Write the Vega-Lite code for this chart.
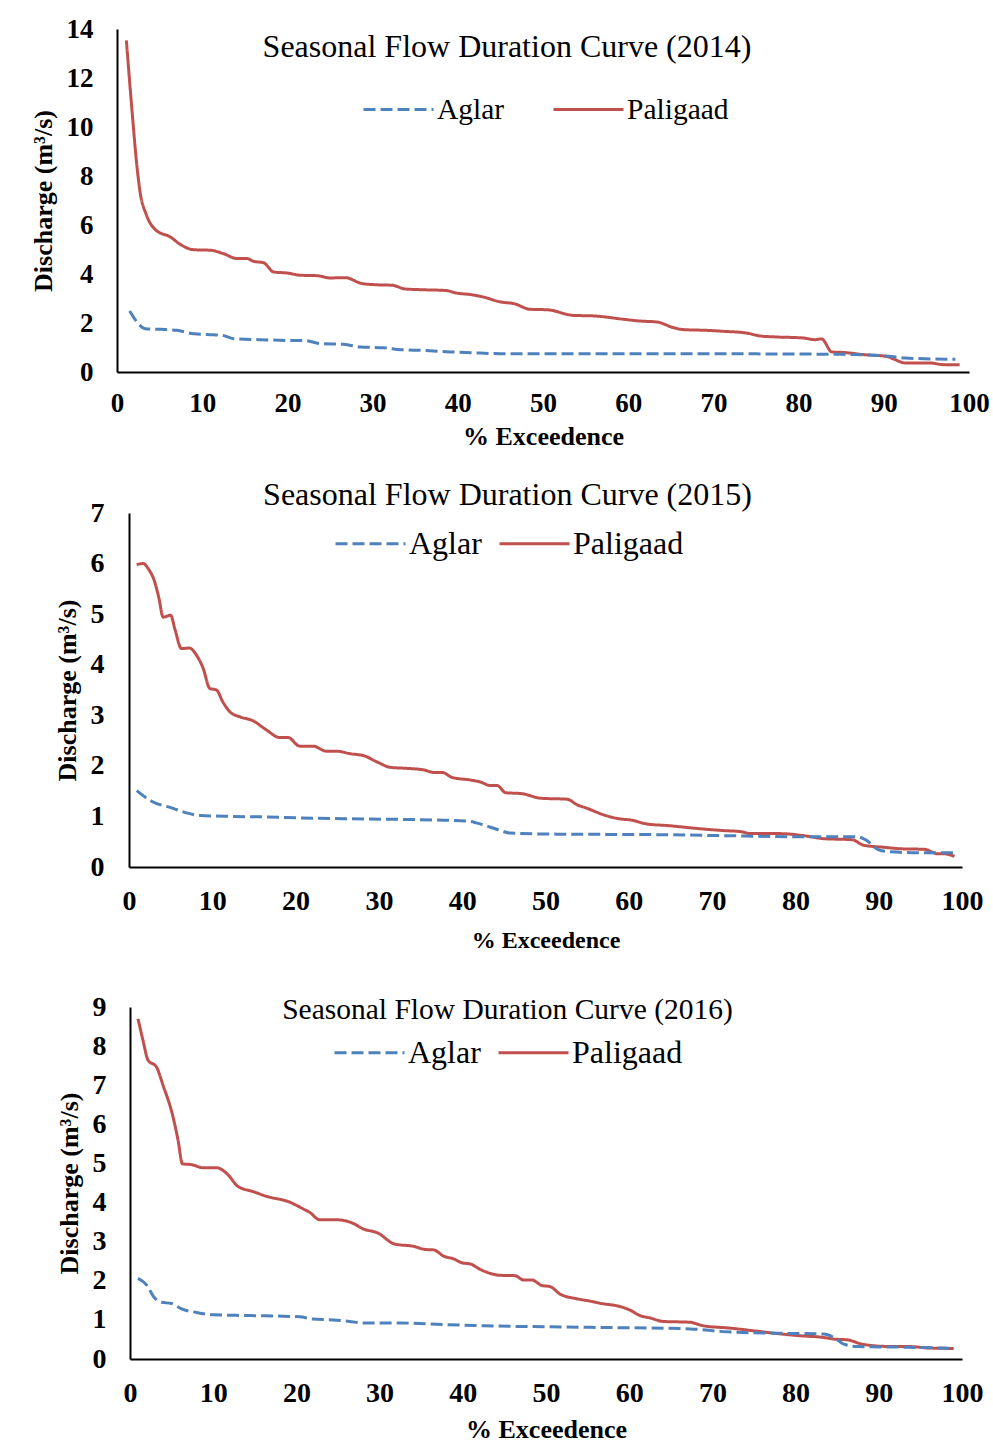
{
  "$schema": "https://vega.github.io/schema/vega-lite/v6.json",
  "padding": {"left": 30, "top": 15, "right": 0, "bottom": 0},
  "background": "white",
  "datasets": {
    "flow": [
      {"year":2014,"station":"Paligaad","exceedence":1.1,"discharge":13.54},
      {"year":2014,"station":"Paligaad","exceedence":1.76,"discharge":10.68},
      {"year":2014,"station":"Paligaad","exceedence":2.35,"discharge":8.37},
      {"year":2014,"station":"Paligaad","exceedence":2.74,"discharge":7.28},
      {"year":2014,"station":"Paligaad","exceedence":3.4,"discharge":6.46},
      {"year":2014,"station":"Paligaad","exceedence":4.5,"discharge":5.81},
      {"year":2014,"station":"Paligaad","exceedence":6.26,"discharge":5.51},
      {"year":2014,"station":"Paligaad","exceedence":7.6,"discharge":5.17},
      {"year":2014,"station":"Paligaad","exceedence":9.0,"discharge":4.99},
      {"year":2014,"station":"Paligaad","exceedence":10.95,"discharge":4.97},
      {"year":2014,"station":"Paligaad","exceedence":12.5,"discharge":4.83},
      {"year":2014,"station":"Paligaad","exceedence":14.1,"discharge":4.63},
      {"year":2014,"station":"Paligaad","exceedence":15.3,"discharge":4.63},
      {"year":2014,"station":"Paligaad","exceedence":16.0,"discharge":4.52},
      {"year":2014,"station":"Paligaad","exceedence":17.2,"discharge":4.46},
      {"year":2014,"station":"Paligaad","exceedence":18.4,"discharge":4.08},
      {"year":2014,"station":"Paligaad","exceedence":20.0,"discharge":4.04},
      {"year":2014,"station":"Paligaad","exceedence":21.5,"discharge":3.95},
      {"year":2014,"station":"Paligaad","exceedence":23.5,"discharge":3.93},
      {"year":2014,"station":"Paligaad","exceedence":25.0,"discharge":3.84},
      {"year":2014,"station":"Paligaad","exceedence":26.8,"discharge":3.85},
      {"year":2014,"station":"Paligaad","exceedence":28.75,"discharge":3.61},
      {"year":2014,"station":"Paligaad","exceedence":30.5,"discharge":3.56},
      {"year":2014,"station":"Paligaad","exceedence":32.3,"discharge":3.54},
      {"year":2014,"station":"Paligaad","exceedence":33.8,"discharge":3.39},
      {"year":2014,"station":"Paligaad","exceedence":35.6,"discharge":3.36},
      {"year":2014,"station":"Paligaad","exceedence":38.5,"discharge":3.33},
      {"year":2014,"station":"Paligaad","exceedence":39.9,"discharge":3.22},
      {"year":2014,"station":"Paligaad","exceedence":41.5,"discharge":3.16},
      {"year":2014,"station":"Paligaad","exceedence":43.0,"discharge":3.06},
      {"year":2014,"station":"Paligaad","exceedence":45.0,"discharge":2.86},
      {"year":2014,"station":"Paligaad","exceedence":46.6,"discharge":2.79},
      {"year":2014,"station":"Paligaad","exceedence":48.5,"discharge":2.56},
      {"year":2014,"station":"Paligaad","exceedence":50.5,"discharge":2.54},
      {"year":2014,"station":"Paligaad","exceedence":53.6,"discharge":2.31},
      {"year":2014,"station":"Paligaad","exceedence":55.9,"discharge":2.29},
      {"year":2014,"station":"Paligaad","exceedence":59.5,"discharge":2.15},
      {"year":2014,"station":"Paligaad","exceedence":61.4,"discharge":2.08},
      {"year":2014,"station":"Paligaad","exceedence":63.4,"discharge":2.04},
      {"year":2014,"station":"Paligaad","exceedence":65.3,"discharge":1.81},
      {"year":2014,"station":"Paligaad","exceedence":66.5,"discharge":1.73},
      {"year":2014,"station":"Paligaad","exceedence":69.2,"discharge":1.70},
      {"year":2014,"station":"Paligaad","exceedence":71.2,"discharge":1.66},
      {"year":2014,"station":"Paligaad","exceedence":73.9,"discharge":1.59},
      {"year":2014,"station":"Paligaad","exceedence":75.5,"discharge":1.47},
      {"year":2014,"station":"Paligaad","exceedence":77.4,"discharge":1.43},
      {"year":2014,"station":"Paligaad","exceedence":80.5,"discharge":1.39},
      {"year":2014,"station":"Paligaad","exceedence":81.9,"discharge":1.32},
      {"year":2014,"station":"Paligaad","exceedence":82.7,"discharge":1.35},
      {"year":2014,"station":"Paligaad","exceedence":83.9,"discharge":0.82},
      {"year":2014,"station":"Paligaad","exceedence":85.2,"discharge":0.80},
      {"year":2014,"station":"Paligaad","exceedence":87.6,"discharge":0.71},
      {"year":2014,"station":"Paligaad","exceedence":90.3,"discharge":0.64},
      {"year":2014,"station":"Paligaad","exceedence":91.1,"discharge":0.54},
      {"year":2014,"station":"Paligaad","exceedence":92.5,"discharge":0.37},
      {"year":2014,"station":"Paligaad","exceedence":95.4,"discharge":0.37},
      {"year":2014,"station":"Paligaad","exceedence":97.0,"discharge":0.30},
      {"year":2014,"station":"Paligaad","exceedence":98.9,"discharge":0.30},
      {"year":2014,"station":"Aglar","exceedence":1.49,"discharge":2.49},
      {"year":2014,"station":"Aglar","exceedence":2.35,"discharge":2.04},
      {"year":2014,"station":"Aglar","exceedence":3.3,"discharge":1.77},
      {"year":2014,"station":"Aglar","exceedence":5.1,"discharge":1.74},
      {"year":2014,"station":"Aglar","exceedence":7.0,"discharge":1.70},
      {"year":2014,"station":"Aglar","exceedence":9.0,"discharge":1.56},
      {"year":2014,"station":"Aglar","exceedence":11.3,"discharge":1.52},
      {"year":2014,"station":"Aglar","exceedence":12.3,"discharge":1.50},
      {"year":2014,"station":"Aglar","exceedence":13.7,"discharge":1.36},
      {"year":2014,"station":"Aglar","exceedence":16.8,"discharge":1.32},
      {"year":2014,"station":"Aglar","exceedence":20.0,"discharge":1.29},
      {"year":2014,"station":"Aglar","exceedence":21.9,"discharge":1.29},
      {"year":2014,"station":"Aglar","exceedence":23.9,"discharge":1.16},
      {"year":2014,"station":"Aglar","exceedence":26.6,"discharge":1.13},
      {"year":2014,"station":"Aglar","exceedence":28.6,"discharge":1.02},
      {"year":2014,"station":"Aglar","exceedence":31.3,"discharge":0.99},
      {"year":2014,"station":"Aglar","exceedence":33.3,"discharge":0.91},
      {"year":2014,"station":"Aglar","exceedence":36.0,"discharge":0.88},
      {"year":2014,"station":"Aglar","exceedence":39.1,"discharge":0.82},
      {"year":2014,"station":"Aglar","exceedence":41.9,"discharge":0.78},
      {"year":2014,"station":"Aglar","exceedence":45.0,"discharge":0.75},
      {"year":2014,"station":"Aglar","exceedence":60.0,"discharge":0.75},
      {"year":2014,"station":"Aglar","exceedence":75.0,"discharge":0.74},
      {"year":2014,"station":"Aglar","exceedence":85.2,"discharge":0.72},
      {"year":2014,"station":"Aglar","exceedence":90.6,"discharge":0.64},
      {"year":2014,"station":"Aglar","exceedence":92.5,"discharge":0.57},
      {"year":2014,"station":"Aglar","exceedence":98.4,"discharge":0.52},

      {"year":2015,"station":"Paligaad","exceedence":0.92,"discharge":5.98},
      {"year":2015,"station":"Paligaad","exceedence":1.72,"discharge":6.0},
      {"year":2015,"station":"Paligaad","exceedence":2.3,"discharge":5.9},
      {"year":2015,"station":"Paligaad","exceedence":3.1,"discharge":5.63},
      {"year":2015,"station":"Paligaad","exceedence":3.6,"discharge":5.31},
      {"year":2015,"station":"Paligaad","exceedence":4.1,"discharge":4.94},
      {"year":2015,"station":"Paligaad","exceedence":5.0,"discharge":4.98},
      {"year":2015,"station":"Paligaad","exceedence":5.5,"discharge":4.71},
      {"year":2015,"station":"Paligaad","exceedence":6.3,"discharge":4.32},
      {"year":2015,"station":"Paligaad","exceedence":7.25,"discharge":4.33},
      {"year":2015,"station":"Paligaad","exceedence":8.1,"discharge":4.19},
      {"year":2015,"station":"Paligaad","exceedence":8.9,"discharge":3.93},
      {"year":2015,"station":"Paligaad","exceedence":9.7,"discharge":3.53},
      {"year":2015,"station":"Paligaad","exceedence":10.5,"discharge":3.50},
      {"year":2015,"station":"Paligaad","exceedence":11.25,"discharge":3.27},
      {"year":2015,"station":"Paligaad","exceedence":12.1,"discharge":3.07},
      {"year":2015,"station":"Paligaad","exceedence":13.3,"discharge":2.97},
      {"year":2015,"station":"Paligaad","exceedence":14.9,"discharge":2.89},
      {"year":2015,"station":"Paligaad","exceedence":16.5,"discharge":2.71},
      {"year":2015,"station":"Paligaad","exceedence":18.1,"discharge":2.56},
      {"year":2015,"station":"Paligaad","exceedence":19.1,"discharge":2.56},
      {"year":2015,"station":"Paligaad","exceedence":20.5,"discharge":2.39},
      {"year":2015,"station":"Paligaad","exceedence":22.1,"discharge":2.39},
      {"year":2015,"station":"Paligaad","exceedence":23.7,"discharge":2.29},
      {"year":2015,"station":"Paligaad","exceedence":24.95,"discharge":2.29},
      {"year":2015,"station":"Paligaad","exceedence":26.55,"discharge":2.24},
      {"year":2015,"station":"Paligaad","exceedence":28.2,"discharge":2.20},
      {"year":2015,"station":"Paligaad","exceedence":29.75,"discharge":2.08},
      {"year":2015,"station":"Paligaad","exceedence":31.4,"discharge":1.97},
      {"year":2015,"station":"Paligaad","exceedence":33.4,"discharge":1.95},
      {"year":2015,"station":"Paligaad","exceedence":35.4,"discharge":1.92},
      {"year":2015,"station":"Paligaad","exceedence":36.6,"discharge":1.87},
      {"year":2015,"station":"Paligaad","exceedence":37.6,"discharge":1.87},
      {"year":2015,"station":"Paligaad","exceedence":38.8,"discharge":1.77},
      {"year":2015,"station":"Paligaad","exceedence":41.0,"discharge":1.72},
      {"year":2015,"station":"Paligaad","exceedence":42.2,"discharge":1.68},
      {"year":2015,"station":"Paligaad","exceedence":43.4,"discharge":1.61},
      {"year":2015,"station":"Paligaad","exceedence":44.2,"discharge":1.61},
      {"year":2015,"station":"Paligaad","exceedence":45.2,"discharge":1.47},
      {"year":2015,"station":"Paligaad","exceedence":47.2,"discharge":1.45},
      {"year":2015,"station":"Paligaad","exceedence":49.4,"discharge":1.36},
      {"year":2015,"station":"Paligaad","exceedence":52.6,"discharge":1.34},
      {"year":2015,"station":"Paligaad","exceedence":53.8,"discharge":1.23},
      {"year":2015,"station":"Paligaad","exceedence":55.0,"discharge":1.16},
      {"year":2015,"station":"Paligaad","exceedence":57.0,"discharge":1.03},
      {"year":2015,"station":"Paligaad","exceedence":59.0,"discharge":0.95},
      {"year":2015,"station":"Paligaad","exceedence":60.2,"discharge":0.93},
      {"year":2015,"station":"Paligaad","exceedence":62.2,"discharge":0.85},
      {"year":2015,"station":"Paligaad","exceedence":64.6,"discharge":0.82},
      {"year":2015,"station":"Paligaad","exceedence":69.0,"discharge":0.75},
      {"year":2015,"station":"Paligaad","exceedence":71.4,"discharge":0.72},
      {"year":2015,"station":"Paligaad","exceedence":73.4,"discharge":0.70},
      {"year":2015,"station":"Paligaad","exceedence":74.6,"discharge":0.66},
      {"year":2015,"station":"Paligaad","exceedence":78.2,"discharge":0.66},
      {"year":2015,"station":"Paligaad","exceedence":81.0,"discharge":0.62},
      {"year":2015,"station":"Paligaad","exceedence":83.4,"discharge":0.56},
      {"year":2015,"station":"Paligaad","exceedence":86.8,"discharge":0.54},
      {"year":2015,"station":"Paligaad","exceedence":88.2,"discharge":0.43},
      {"year":2015,"station":"Paligaad","exceedence":90.6,"discharge":0.39},
      {"year":2015,"station":"Paligaad","exceedence":92.7,"discharge":0.36},
      {"year":2015,"station":"Paligaad","exceedence":95.5,"discharge":0.35},
      {"year":2015,"station":"Paligaad","exceedence":97.1,"discharge":0.26},
      {"year":2015,"station":"Paligaad","exceedence":97.9,"discharge":0.26},
      {"year":2015,"station":"Paligaad","exceedence":99.1,"discharge":0.21},
      {"year":2015,"station":"Aglar","exceedence":0.92,"discharge":1.51},
      {"year":2015,"station":"Aglar","exceedence":2.7,"discharge":1.30},
      {"year":2015,"station":"Aglar","exceedence":5.3,"discharge":1.16},
      {"year":2015,"station":"Aglar","exceedence":6.9,"discharge":1.07},
      {"year":2015,"station":"Aglar","exceedence":8.5,"discharge":1.02},
      {"year":2015,"station":"Aglar","exceedence":12.5,"discharge":1.00},
      {"year":2015,"station":"Aglar","exceedence":16.5,"discharge":0.99},
      {"year":2015,"station":"Aglar","exceedence":20.5,"discharge":0.97},
      {"year":2015,"station":"Aglar","exceedence":28.6,"discharge":0.95},
      {"year":2015,"station":"Aglar","exceedence":36.6,"discharge":0.93},
      {"year":2015,"station":"Aglar","exceedence":40.6,"discharge":0.91},
      {"year":2015,"station":"Aglar","exceedence":42.6,"discharge":0.83},
      {"year":2015,"station":"Aglar","exceedence":44.6,"discharge":0.72},
      {"year":2015,"station":"Aglar","exceedence":45.8,"discharge":0.67},
      {"year":2015,"station":"Aglar","exceedence":51.4,"discharge":0.65},
      {"year":2015,"station":"Aglar","exceedence":63.4,"discharge":0.64},
      {"year":2015,"station":"Aglar","exceedence":71.4,"discharge":0.62},
      {"year":2015,"station":"Aglar","exceedence":79.4,"discharge":0.60},
      {"year":2015,"station":"Aglar","exceedence":87.4,"discharge":0.60},
      {"year":2015,"station":"Aglar","exceedence":88.4,"discharge":0.54},
      {"year":2015,"station":"Aglar","exceedence":90.0,"discharge":0.34},
      {"year":2015,"station":"Aglar","exceedence":91.4,"discharge":0.30},
      {"year":2015,"station":"Aglar","exceedence":95.5,"discharge":0.28},
      {"year":2015,"station":"Aglar","exceedence":99.1,"discharge":0.28},

      {"year":2016,"station":"Paligaad","exceedence":0.96,"discharge":8.70},
      {"year":2016,"station":"Paligaad","exceedence":1.56,"discharge":8.15},
      {"year":2016,"station":"Paligaad","exceedence":2.17,"discharge":7.64},
      {"year":2016,"station":"Paligaad","exceedence":3.17,"discharge":7.47},
      {"year":2016,"station":"Paligaad","exceedence":3.97,"discharge":7.00},
      {"year":2016,"station":"Paligaad","exceedence":5.17,"discharge":6.19},
      {"year":2016,"station":"Paligaad","exceedence":5.78,"discharge":5.59},
      {"year":2016,"station":"Paligaad","exceedence":6.3,"discharge":4.99},
      {"year":2016,"station":"Paligaad","exceedence":7.4,"discharge":4.97},
      {"year":2016,"station":"Paligaad","exceedence":8.8,"discharge":4.89},
      {"year":2016,"station":"Paligaad","exceedence":10.4,"discharge":4.89},
      {"year":2016,"station":"Paligaad","exceedence":11.6,"discharge":4.75},
      {"year":2016,"station":"Paligaad","exceedence":13.0,"discharge":4.41},
      {"year":2016,"station":"Paligaad","exceedence":14.8,"discharge":4.28},
      {"year":2016,"station":"Paligaad","exceedence":16.4,"discharge":4.16},
      {"year":2016,"station":"Paligaad","exceedence":19.2,"discharge":4.01},
      {"year":2016,"station":"Paligaad","exceedence":20.8,"discharge":3.84},
      {"year":2016,"station":"Paligaad","exceedence":21.6,"discharge":3.75},
      {"year":2016,"station":"Paligaad","exceedence":22.8,"discharge":3.56},
      {"year":2016,"station":"Paligaad","exceedence":24.8,"discharge":3.56},
      {"year":2016,"station":"Paligaad","exceedence":26.8,"discharge":3.47},
      {"year":2016,"station":"Paligaad","exceedence":28.0,"discharge":3.33},
      {"year":2016,"station":"Paligaad","exceedence":29.8,"discharge":3.22},
      {"year":2016,"station":"Paligaad","exceedence":31.8,"discharge":2.94},
      {"year":2016,"station":"Paligaad","exceedence":34.1,"discharge":2.88},
      {"year":2016,"station":"Paligaad","exceedence":35.5,"discharge":2.80},
      {"year":2016,"station":"Paligaad","exceedence":36.5,"discharge":2.79},
      {"year":2016,"station":"Paligaad","exceedence":37.7,"discharge":2.63},
      {"year":2016,"station":"Paligaad","exceedence":38.9,"discharge":2.56},
      {"year":2016,"station":"Paligaad","exceedence":39.9,"discharge":2.46},
      {"year":2016,"station":"Paligaad","exceedence":40.9,"discharge":2.43},
      {"year":2016,"station":"Paligaad","exceedence":42.1,"discharge":2.29},
      {"year":2016,"station":"Paligaad","exceedence":44.5,"discharge":2.14},
      {"year":2016,"station":"Paligaad","exceedence":46.3,"discharge":2.13},
      {"year":2016,"station":"Paligaad","exceedence":47.3,"discharge":2.02},
      {"year":2016,"station":"Paligaad","exceedence":48.3,"discharge":2.02},
      {"year":2016,"station":"Paligaad","exceedence":49.5,"discharge":1.88},
      {"year":2016,"station":"Paligaad","exceedence":50.5,"discharge":1.85},
      {"year":2016,"station":"Paligaad","exceedence":51.7,"discharge":1.66},
      {"year":2016,"station":"Paligaad","exceedence":53.7,"discharge":1.54},
      {"year":2016,"station":"Paligaad","exceedence":55.3,"discharge":1.48},
      {"year":2016,"station":"Paligaad","exceedence":56.9,"discharge":1.41},
      {"year":2016,"station":"Paligaad","exceedence":58.3,"discharge":1.37},
      {"year":2016,"station":"Paligaad","exceedence":60.1,"discharge":1.25},
      {"year":2016,"station":"Paligaad","exceedence":61.3,"discharge":1.11},
      {"year":2016,"station":"Paligaad","exceedence":62.5,"discharge":1.05},
      {"year":2016,"station":"Paligaad","exceedence":64.1,"discharge":0.96},
      {"year":2016,"station":"Paligaad","exceedence":67.3,"discharge":0.94},
      {"year":2016,"station":"Paligaad","exceedence":68.9,"discharge":0.85},
      {"year":2016,"station":"Paligaad","exceedence":72.1,"discharge":0.79},
      {"year":2016,"station":"Paligaad","exceedence":75.4,"discharge":0.71},
      {"year":2016,"station":"Paligaad","exceedence":77.4,"discharge":0.66},
      {"year":2016,"station":"Paligaad","exceedence":80.2,"discharge":0.60},
      {"year":2016,"station":"Paligaad","exceedence":83.4,"discharge":0.55},
      {"year":2016,"station":"Paligaad","exceedence":84.6,"discharge":0.51},
      {"year":2016,"station":"Paligaad","exceedence":86.2,"discharge":0.49},
      {"year":2016,"station":"Paligaad","exceedence":88.2,"discharge":0.37},
      {"year":2016,"station":"Paligaad","exceedence":91.4,"discharge":0.32},
      {"year":2016,"station":"Paligaad","exceedence":93.4,"discharge":0.32},
      {"year":2016,"station":"Paligaad","exceedence":96.2,"discharge":0.28},
      {"year":2016,"station":"Paligaad","exceedence":99.0,"discharge":0.27},
      {"year":2016,"station":"Aglar","exceedence":0.96,"discharge":2.06},
      {"year":2016,"station":"Aglar","exceedence":1.97,"discharge":1.90},
      {"year":2016,"station":"Aglar","exceedence":2.97,"discharge":1.56},
      {"year":2016,"station":"Aglar","exceedence":3.77,"discharge":1.45},
      {"year":2016,"station":"Aglar","exceedence":4.97,"discharge":1.42},
      {"year":2016,"station":"Aglar","exceedence":6.2,"discharge":1.28},
      {"year":2016,"station":"Aglar","exceedence":8.0,"discharge":1.19},
      {"year":2016,"station":"Aglar","exceedence":10.0,"discharge":1.13},
      {"year":2016,"station":"Aglar","exceedence":14.4,"discharge":1.11},
      {"year":2016,"station":"Aglar","exceedence":20.4,"discharge":1.08},
      {"year":2016,"station":"Aglar","exceedence":22.0,"discharge":1.02},
      {"year":2016,"station":"Aglar","exceedence":24.4,"discharge":1.00},
      {"year":2016,"station":"Aglar","exceedence":26.4,"discharge":0.96},
      {"year":2016,"station":"Aglar","exceedence":28.0,"discharge":0.92},
      {"year":2016,"station":"Aglar","exceedence":32.5,"discharge":0.92},
      {"year":2016,"station":"Aglar","exceedence":37.7,"discharge":0.88},
      {"year":2016,"station":"Aglar","exceedence":42.5,"discharge":0.85},
      {"year":2016,"station":"Aglar","exceedence":55.3,"discharge":0.81},
      {"year":2016,"station":"Aglar","exceedence":67.3,"discharge":0.77},
      {"year":2016,"station":"Aglar","exceedence":71.3,"discharge":0.70},
      {"year":2016,"station":"Aglar","exceedence":77.4,"discharge":0.66},
      {"year":2016,"station":"Aglar","exceedence":83.4,"discharge":0.64},
      {"year":2016,"station":"Aglar","exceedence":84.6,"discharge":0.55},
      {"year":2016,"station":"Aglar","exceedence":85.8,"discharge":0.38},
      {"year":2016,"station":"Aglar","exceedence":87.4,"discharge":0.32},
      {"year":2016,"station":"Aglar","exceedence":93.4,"discharge":0.30},
      {"year":2016,"station":"Aglar","exceedence":99.0,"discharge":0.27}
    ]
  },
  "columns": 1,
  "spacing": 30,
  "resolve": {
    "scale": {"x": "independent", "y": "independent", "color": "independent", "strokeDash": "independent"},
    "legend": {"color": "independent", "strokeDash": "independent"}
  },
  "concat": [
    {
      "width": 852,
      "height": 343,
      "title": {"text": "Seasonal Flow Duration Curve (2014)", "fontSize": 32, "offset": -49, "dx": -36},
      "data": {"name": "flow"},
      "transform": [{"filter": "datum.year == 2014"}],
      "mark": {"type": "line", "interpolate": "monotone", "strokeWidth": 3},
      "encoding": {
        "x": {"field": "exceedence", "type": "quantitative", "scale": {"domain": [0, 100], "nice": false},
              "axis": {"values": [0,10,20,30,40,50,60,70,80,90,100], "labelOverlap": false, "title": "% Exceedence", "labelFontSize": 27, "labelPadding": 18, "titleFontSize": 26, "titlePadding": 7}},
        "y": {"field": "discharge", "type": "quantitative", "scale": {"domain": [0, 14], "nice": false},
              "axis": {"values": [0,2,4,6,8,10,12,14], "labelOverlap": false, "title": "Discharge (m³/s)", "labelFontSize": 27, "labelPadding": 24, "titleFontSize": 26, "titlePadding": 10}},
        "color": {"field": "station", "type": "nominal", "scale": {"domain": ["Aglar", "Paligaad"], "range": ["#4F81BD", "#C0504D"]},
                  "legend": {"title": null, "orient": "none", "direction": "horizontal", "legendX": 245, "legendY": 44, "labelFontSize": 29.5, "labelOffset": 2, "columnPadding": 42}},
        "strokeDash": {"field": "station", "type": "nominal", "scale": {"domain": ["Aglar", "Paligaad"], "range": [[12, 5], [1, 0]]},
                  "legend": {"title": null, "orient": "none", "direction": "horizontal", "legendX": 245, "legendY": 44, "labelFontSize": 29.5, "labelOffset": 2, "columnPadding": 42}}
      }
    },
    {
      "width": 845,
      "height": 354,
      "title": {"text": "Seasonal Flow Duration Curve (2015)", "fontSize": 32, "offset": -13, "dx": -32},
      "data": {"name": "flow"},
      "transform": [{"filter": "datum.year == 2015"}],
      "mark": {"type": "line", "interpolate": "monotone", "strokeWidth": 3},
      "encoding": {
        "x": {"field": "exceedence", "type": "quantitative", "scale": {"domain": [0, 100], "range": [12, 845], "nice": false},
              "axis": {"values": [0,10,20,30,40,50,60,70,80,90,100], "labelOverlap": false, "title": ["% Exceedence", ""], "titleLineHeight": 11, "labelFontSize": 28, "labelPadding": 20, "titleFontSize": 24, "titlePadding": 13}},
        "y": {"field": "discharge", "type": "quantitative", "scale": {"domain": [0, 7], "nice": false},
              "axis": {"values": [0,1,2,3,4,5,6,7], "labelOverlap": false, "offset": -12, "title": "Discharge (m³/s)", "labelFontSize": 28, "labelPadding": 25, "titleFontSize": 26, "titlePadding": 10}},
        "color": {"field": "station", "type": "nominal", "scale": {"domain": ["Aglar", "Paligaad"], "range": ["#4F81BD", "#C0504D"]},
                  "legend": {"title": null, "orient": "none", "direction": "horizontal", "legendX": 217, "legendY": -6, "labelFontSize": 32, "labelOffset": 2, "columnPadding": 11}},
        "strokeDash": {"field": "station", "type": "nominal", "scale": {"domain": ["Aglar", "Paligaad"], "range": [[12, 5], [1, 0]]},
                  "legend": {"title": null, "orient": "none", "direction": "horizontal", "legendX": 217, "legendY": -6, "labelFontSize": 32, "labelOffset": 2, "columnPadding": 11}}
      }
    },
    {
      "width": 845,
      "height": 352,
      "title": {"text": "Seasonal Flow Duration Curve (2016)", "fontSize": 29.5, "offset": -32, "dx": -32},
      "data": {"name": "flow"},
      "transform": [{"filter": "datum.year == 2016"}],
      "mark": {"type": "line", "interpolate": "monotone", "strokeWidth": 3},
      "encoding": {
        "x": {"field": "exceedence", "type": "quantitative", "scale": {"domain": [0, 100], "range": [13, 845], "nice": false},
              "axis": {"values": [0,10,20,30,40,50,60,70,80,90,100], "labelOverlap": false, "title": "% Exceedence", "labelFontSize": 28, "labelPadding": 20, "titleFontSize": 26, "titlePadding": 9}},
        "y": {"field": "discharge", "type": "quantitative", "scale": {"domain": [0, 9], "nice": false},
              "axis": {"values": [0,1,2,3,4,5,6,7,8,9], "labelOverlap": false, "offset": -13, "title": "Discharge (m³/s)", "labelFontSize": 28, "labelPadding": 24, "titleFontSize": 26, "titlePadding": 10}},
        "color": {"field": "station", "type": "nominal", "scale": {"domain": ["Aglar", "Paligaad"], "range": ["#4F81BD", "#C0504D"]},
                  "legend": {"title": null, "orient": "none", "direction": "horizontal", "legendX": 216, "legendY": 9, "labelFontSize": 32, "labelOffset": 2, "columnPadding": 11}},
        "strokeDash": {"field": "station", "type": "nominal", "scale": {"domain": ["Aglar", "Paligaad"], "range": [[12, 5], [1, 0]]},
                  "legend": {"title": null, "orient": "none", "direction": "horizontal", "legendX": 216, "legendY": 9, "labelFontSize": 32, "labelOffset": 2, "columnPadding": 11}}
      }
    }
  ],
  "config": {
    "view": {"stroke": null},
    "font": "Liberation Serif",
    "title": {"font": "Liberation Serif", "fontWeight": "normal", "color": "black", "anchor": "middle", "frame": "group"},
    "axis": {
      "domainColor": "black", "domainWidth": 2, "ticks": false, "grid": false,
      "labelFont": "Liberation Serif", "labelFontWeight": "bold", "labelColor": "black",
      "labelFlush": false, "labelOverlap": false,
      "titleFont": "Liberation Serif", "titleFontWeight": "bold", "titleColor": "black"
    },
    "legend": {
      "symbolType": "stroke", "symbolSize": 4900, "symbolStrokeWidth": 3,
      "labelFont": "Liberation Serif", "labelColor": "black", "padding": 0, "rowPadding": 0,
      "labelLimit": 400
    }
  }
}
